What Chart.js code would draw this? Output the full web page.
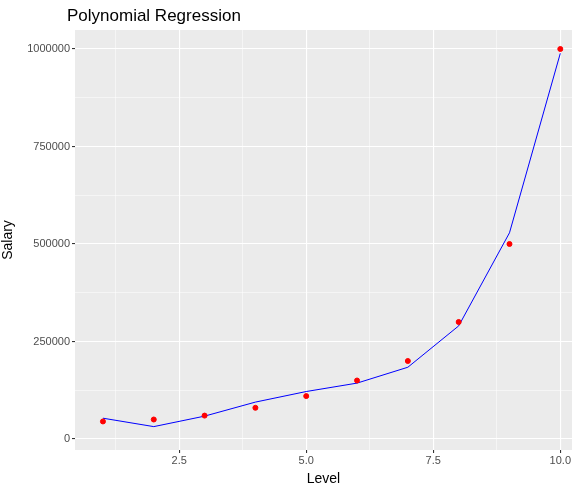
<!DOCTYPE html>
<html><head><meta charset="utf-8">
<script src="https://cdn.jsdelivr.net/npm/chart.js@4/dist/chart.umd.min.js"></script>
<style>body{margin:0;background:#fff}#w{width:577px;height:488px}</style>
</head><body><div id="w"><canvas id="c"></canvas></div>
<script>
const levels=[1,2,3,4,5,6,7,8,9,10];
const salaries=[45000,50000,60000,80000,110000,150000,200000,300000,500000,1000000];
const predicted=[53357,31760,58642,94632,121725,143275,184003,289994,528694,988916];
const xTicks=[2.5,5.0,7.5,10.0];
const yTicks=[0,250000,500000,750000,1000000];
const bg={id:'bg',beforeDraw(c){const a=c.chartArea,x=c.ctx;x.save();x.fillStyle='#EBEBEB';x.fillRect(a.left,a.top,a.right-a.left,a.bottom-a.top);
x.fillStyle='#000';x.font='17px "Liberation Sans",Arial';x.textBaseline='alphabetic';x.fillText('Polynomial Regression',a.left-8,21);x.restore();}};
const isMajor=(v,arr)=>arr.some(t=>Math.abs(t-v)<1e-6);
new Chart(document.getElementById('c'),{
data:{datasets:[
{type:'line',data:levels.map((l,i)=>({x:l,y:predicted[i]})),borderColor:'#0000FF',borderWidth:1,pointRadius:0,tension:0,order:2},
{type:'scatter',data:levels.map((l,i)=>({x:l,y:salaries[i]})),backgroundColor:'#FF0000',borderColor:'#FF0000',pointRadius:2.5,order:1}
]},
options:{responsive:true,maintainAspectRatio:false,animation:false,
layout:{padding:{top:30,right:2}},
plugins:{legend:{display:false},tooltip:{enabled:false}},
scales:{
x:{type:'linear',min:0.45,max:10.23,afterBuildTicks(s){const t=[];for(let v=1.25;v<=10.01;v+=1.25)t.push({value:v});s.ticks=t;},
afterFit(s){s.height=38;},
grid:{color:'#fff',lineWidth:c=>isMajor(c.tick.value,xTicks)?1.1:0.5,tickLength:3,tickColor:c=>isMajor(c.tick.value,xTicks)?'#333':'rgba(0,0,0,0)'},
border:{display:false},
ticks:{color:'#4D4D4D',font:{size:11,family:'"Liberation Sans",Arial'},padding:1,maxRotation:0,autoSkip:false,callback:v=>isMajor(v,xTicks)?v.toFixed(1):''},
title:{display:true,text:'Level',color:'#000',font:{size:14,family:'"Liberation Sans",Arial'},padding:{top:0,bottom:0}}},
y:{type:'linear',min:-28200,max:1048700,afterBuildTicks(s){const t=[];for(let v=0;v<=1000000;v+=125000)t.push({value:v});s.ticks=t;},
afterFit(s){s.width=75;},
grid:{color:'#fff',lineWidth:c=>isMajor(c.tick.value,yTicks)?1.1:0.5,tickLength:3,tickColor:c=>isMajor(c.tick.value,yTicks)?'#333':'rgba(0,0,0,0)'},
border:{display:false},
ticks:{color:'#4D4D4D',font:{size:11,family:'"Liberation Sans",Arial'},padding:2,autoSkip:false,callback:v=>isMajor(v,yTicks)?String(v):''},
title:{display:true,text:'Salary',color:'#000',font:{size:14,family:'"Liberation Sans",Arial'},padding:{top:0,bottom:4}}}
}},
plugins:[bg]});
</script></body></html>
